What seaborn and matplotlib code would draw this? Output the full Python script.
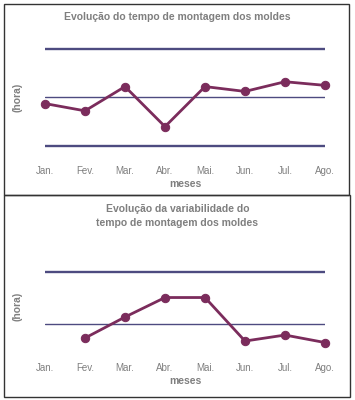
import matplotlib
matplotlib.use("Agg")
import matplotlib.pyplot as plt
import seaborn as sns
import pandas as pd
import numpy as np
from matplotlib.patches import Rectangle

sns.set_style("white")
plt.rcParams['font.family'] = ['Liberation Sans', 'DejaVu Sans']

meses = ["Jan.", "Fev.", "Mar.", "Abr.", "Mai.", "Jun.", "Jul.", "Ago."]
tempo = [9.5, 8.9, 10.9, 7.6, 10.9, 10.5, 11.3, 11.0]
tempo_limites = [14.0, 10.0, 6.0]          # LSC, LC, LIC
variabilidade = [np.nan, 0.6, 2.0, 3.3, 3.3, 0.4, 0.8, 0.3]
var_limites = [5.0, 1.53]                  # LSC, LC

titulo1 = "Evolução do tempo de montagem dos moldes"
titulo2 = "Evolução da variabilidade do\ntempo de montagem dos moldes"

cor_dados = "#7b2c5c"
cor_lim = "#4d4b80"
cor_txt = "#7f7f7f"

fig = plt.figure(figsize=(3.55, 4.0), dpi=100)
W, H = 355, 400

def px_ax(x0, y0, x1, y1):
    return fig.add_axes([x0 / W, 1 - y1 / H, (x1 - x0) / W, (y1 - y0) / H])

# panel borders
fig.patches.append(Rectangle((4 / W, 1 - 195 / H), 345 / W, 191 / H, transform=fig.transFigure,
                             fill=False, edgecolor="#333333", linewidth=1.0))
fig.patches.append(Rectangle((4 / W, 1 - 397 / H), 346 / W, 202 / H, transform=fig.transFigure,
                             fill=False, edgecolor="#333333", linewidth=1.0))

def style(ax):
    ax.set_xlim(0, len(meses) - 1)
    ax.set_xticks(range(len(meses)))
    ax.set_xticklabels(meses, color=cor_txt, fontsize=7)
    ax.set_yticks([])
    for s in ax.spines.values():
        s.set_visible(False)
    ax.tick_params(axis="x", length=0, pad=8)
    ax.set_xlabel("meses", color=cor_txt, fontsize=7.5, fontweight="bold", labelpad=2)
    ax.set_ylabel("(hora)", color=cor_txt, fontsize=7.5, fontweight="bold", labelpad=16)
    ax.patch.set_alpha(0)

# top chart
ax1 = px_ax(45, 40, 325, 155)
df1 = pd.DataFrame({"x": range(len(meses)), "y": tempo})
for i, v in enumerate(tempo_limites):
    ax1.axhline(v, color=cor_lim, lw=1.7 if i != 1 else 1.0, zorder=1)
sns.lineplot(data=df1, x="x", y="y", ax=ax1, color=cor_dados, lw=2, marker="o",
             markersize=6, markeredgecolor=cor_dados, zorder=3, clip_on=False)
ax1.set_ylim(5.26, 14.74)
style(ax1)
fig.text(0.5, 1 - 17 / H, titulo1, ha="center", va="center", color=cor_txt,
         fontsize=7.5, fontweight="bold")

# bottom chart
ax2 = px_ax(45, 260, 325, 352)
df2 = pd.DataFrame({"x": range(len(meses)), "y": variabilidade})
for i, v in enumerate(var_limites):
    ax2.axhline(v, color=cor_lim, lw=1.7 if i == 0 else 1.0, zorder=1)
sns.lineplot(data=df2, x="x", y="y", ax=ax2, color=cor_dados, lw=2, marker="o",
             markersize=6, markeredgecolor=cor_dados, zorder=3, clip_on=False)
ax2.set_ylim(-0.33, 5.8)
style(ax2)
fig.text(0.5, 1 - 216 / H, titulo2, ha="center", va="center", color=cor_txt,
         fontsize=7.5, fontweight="bold", linespacing=1.4)

fig.savefig("out.png", dpi=100)
